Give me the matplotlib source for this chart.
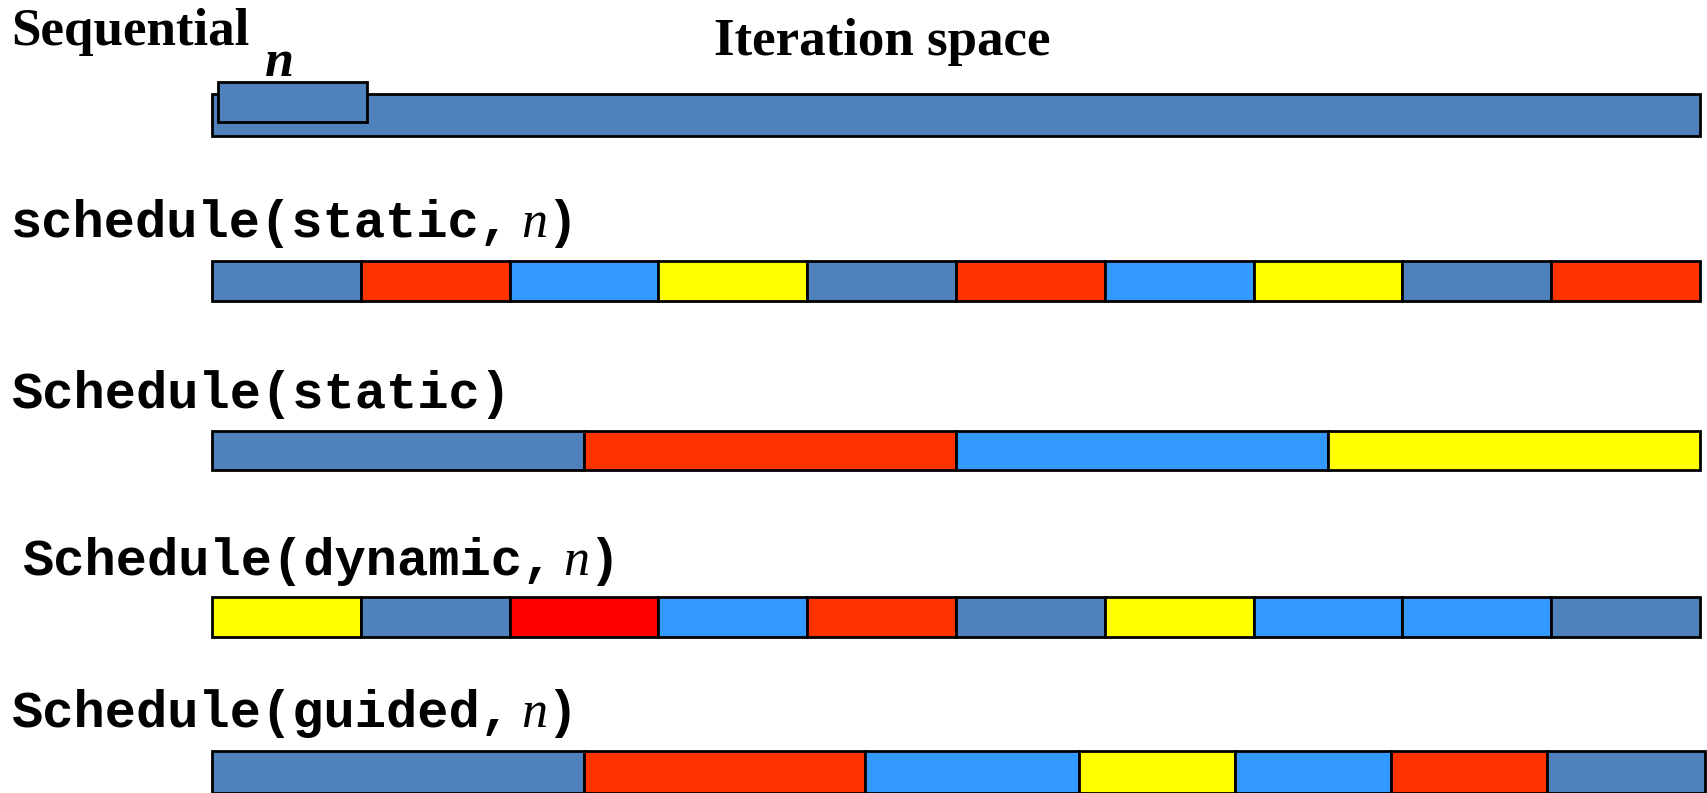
import matplotlib
matplotlib.use('Agg')
import matplotlib.pyplot as plt

W, H = 1707, 793
DPI = 100
FS = 37.5

STEEL = '#4f81bd'
ORANGE = '#ff3300'
SKY = '#3399ff'
YELLOW = '#ffff00'
RED = '#ff0000'

# chunk sizes, in percent of the iteration space
seq_sizes = [100]
seq_colors = [STEEL]

static_n_sizes = [10, 10, 10, 10, 10, 10, 10, 10, 10, 10]
static_n_colors = [STEEL, ORANGE, SKY, YELLOW, STEEL, ORANGE, SKY, YELLOW, STEEL, ORANGE]

static_sizes = [25, 25, 25, 25]
static_colors = [STEEL, ORANGE, SKY, YELLOW]

dynamic_sizes = [10, 10, 10, 10, 10, 10, 10, 10, 10, 10]
dynamic_colors = [YELLOW, STEEL, RED, SKY, ORANGE, STEEL, YELLOW, SKY, SKY, STEEL]

guided_sizes = [25, 18.9, 14.35, 10.5, 10.5, 10.5, 10.6]
guided_colors = [STEEL, ORANGE, SKY, YELLOW, SKY, ORANGE, STEEL]

# one chunk of size n drawn on top of the sequential bar
seq_chunk = 10

# layout (pixels): bar row tops and heights
rows = [
    (seq_sizes, seq_colors, 94, 42),
    (static_n_sizes, static_n_colors, 261, 39.5),
    (static_sizes, static_colors, 431, 38.5),
    (dynamic_sizes, dynamic_colors, 597, 40),
    (guided_sizes, guided_colors, 751, 42),
]

X0 = 212      # pixel where the iteration space starts
UNIT = 14.88  # pixels per percent

fig = plt.figure(figsize=(W / DPI, H / DPI), dpi=DPI)
ax = fig.add_axes([0, 0, 1, 1])
ax.set_xlim(-X0 / UNIT, (W - X0) / UNIT)
ax.set_ylim(H, 0)
ax.axis('off')

for sizes, colors, top, h in rows:
    lefts = [sum(sizes[:i]) for i in range(len(sizes))]
    ax.barh([top] * len(sizes), sizes, left=lefts, height=h, align='edge',
            color=colors, edgecolor='black', linewidth=2.0)

# the small "n" chunk sitting over the sequential bar
ax.barh([82], [seq_chunk], left=[0.4], height=40, align='edge',
        color=STEEL, edgecolor='black', linewidth=2.0)


def put(x, y, s, **kw):
    return fig.text(x / W, 1 - y / H, s, va='baseline', ha=kw.pop('ha', 'left'),
                    fontsize=kw.pop('fontsize', FS), **kw)


serif = dict(family='Liberation Serif', weight='bold')
mono = dict(family='Liberation Mono', weight='bold')

put(11, 45, 'Sequential', fontsize=38.2, **serif)
put(265, 76, 'n', style='italic', **serif)
put(882, 55, 'Iteration space', ha='center', fontsize=38.2, **serif)

adv = 0.6 * FS * DPI / 72


def mono_label(x, y, prefix, with_n):
    put(x, y, prefix, **mono)
    if with_n:
        k = len(prefix)
        put(x + k * adv + 10, y, 'n', family='Liberation Serif', style='italic')
        put(x + (k + 1) * adv + 4, y, ')', **mono)


mono_label(11, 237, 'schedule(static,', True)
mono_label(11, 408, 'Schedule(static)', False)
mono_label(22, 575, 'Schedule(dynamic,', True)
mono_label(11, 727, 'Schedule(guided,', True)

fig.savefig('out.png', dpi=DPI)
